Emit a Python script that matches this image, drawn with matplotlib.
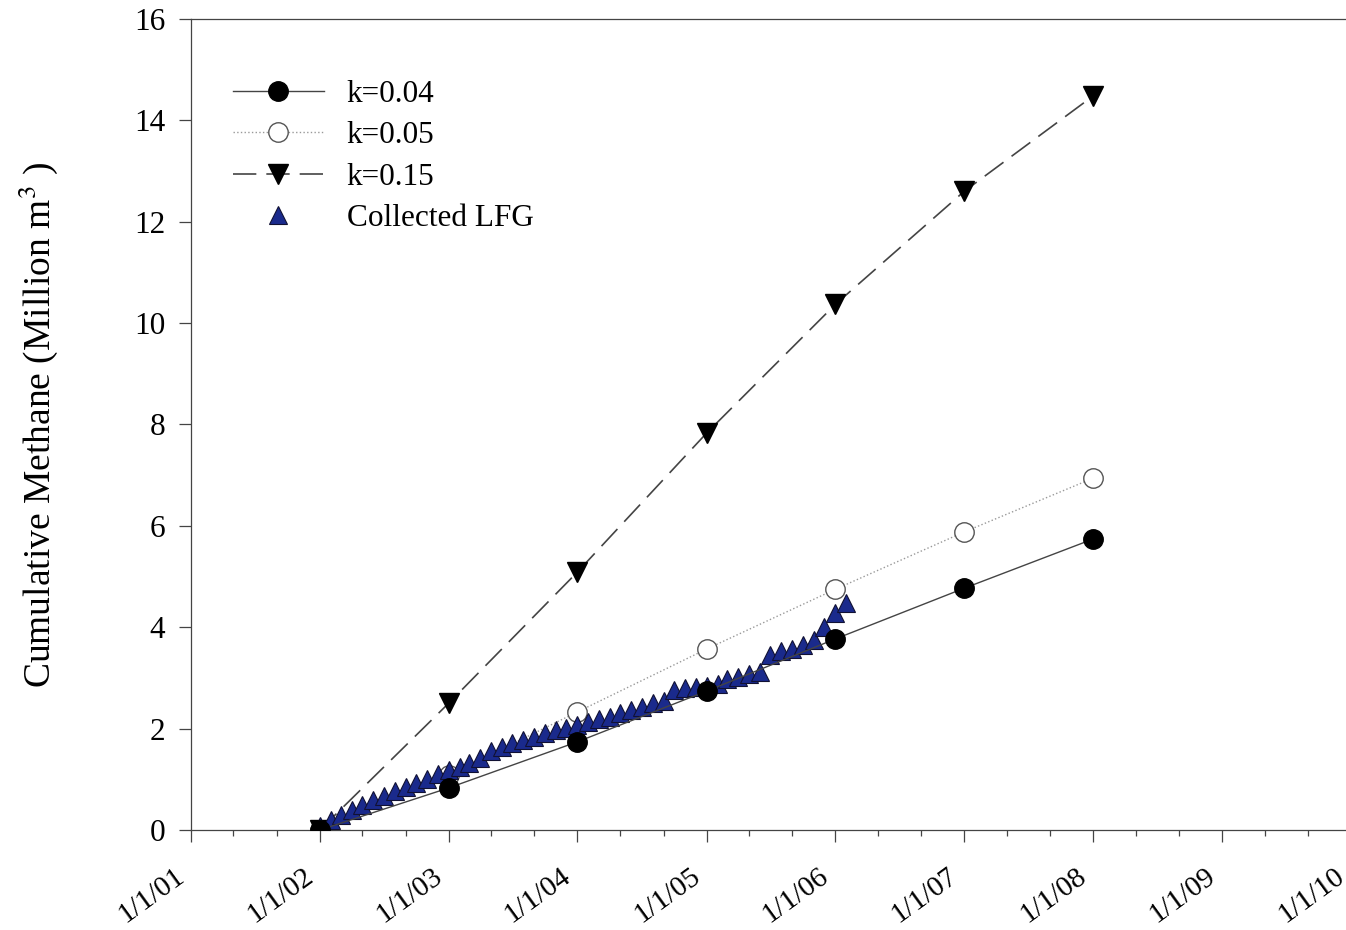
import datetime as dt
import matplotlib
matplotlib.use("Agg")
import matplotlib.pyplot as plt
import matplotlib.dates as mdates
import matplotlib.transforms as mtransforms

plt.rcParams['font.family'] = ['Liberation Serif', 'DejaVu Serif']
plt.rcParams['mathtext.fontset'] = 'stix'

# model years (1 Jan of each year)
model_years = [2002, 2003, 2004, 2005, 2006, 2007, 2008]
k004 = [0.0, 0.83, 1.74, 2.74, 3.77, 4.77, 5.74]
k005 = [0.0, 1.08, 2.33, 3.57, 4.75, 5.88, 6.94]
k015 = [0.0, 2.50, 5.09, 7.83, 10.37, 12.60, 14.48]

# collected LFG, monthly from Jan 2002 to Feb 2006
lfg = [0.08, 0.20, 0.30, 0.40, 0.50, 0.60, 0.68, 0.76, 0.85, 0.93, 1.01, 1.10,
       1.18, 1.24, 1.32, 1.42, 1.55, 1.64, 1.72, 1.78, 1.84, 1.91, 1.97, 2.01,
       2.07, 2.13, 2.19, 2.23, 2.31, 2.37, 2.43, 2.51, 2.55, 2.76, 2.80, 2.83,
       2.84, 2.88, 2.97, 3.02, 3.08, 3.12, 3.45, 3.53, 3.58, 3.65, 3.75, 4.00,
       4.28, 4.48]

xm = [dt.date(y, 1, 1) for y in model_years]
xl = [dt.date(2002 + i // 12, i % 12 + 1, 1) for i in range(len(lfg))]

fig = plt.figure(figsize=(13.46, 9.30), dpi=100)
ax = fig.add_axes([0.1419, 0.1075, 0.8618, 0.8721])

ax.plot(xm, k004, '-', color='#444444', lw=1.0, marker='o', ms=14,
        mfc='black', mec='black', zorder=4, label='k=0.04')
ax.plot(xm, k005, ':', color='#999999', lw=1.0, marker='o', ms=14,
        mfc='white', mec='#555555', mew=1.0, zorder=2, label='k=0.05')
ax.plot(xm, k015, color='#444444', lw=1.2, dashes=(14, 6), marker='v', ms=15,
        mfc='black', mec='black', zorder=2, label='k=0.15')
ax.plot(xl, lfg, ls='none', marker='^', ms=13, mfc='#1a2a8c', mec='#111133',
        mew=0.8, zorder=3, label='Collected LFG')

ax.set_xlim(dt.date(2001, 1, 1), dt.date(2010, 1, 1))
ax.set_ylim(0, 16)
ax.set_yticks(range(0, 17, 2))
ax.xaxis.set_major_locator(mdates.YearLocator())
ax.xaxis.set_minor_locator(mdates.MonthLocator(bymonth=[5, 9]))
ax.xaxis.set_major_formatter(mdates.DateFormatter('1/1/%y'))

ax.tick_params(axis='both', which='major', direction='out',
               length=8.6, width=0.9, color='#444444')
ax.tick_params(axis='x', which='minor', direction='out', length=4.5,
               width=0.9, color='#444444')
ax.tick_params(axis='x', labelsize=21, pad=15)
ax.tick_params(axis='y', labelsize=22.5, pad=10)

shift = mtransforms.ScaledTranslation(-0.17, 0, fig.dpi_scale_trans)
for lab in ax.get_xticklabels():
    lab.set_rotation(36)
    lab.set_ha('right')
    lab.set_rotation_mode('anchor')
    lab.set_transform(lab.get_transform() + shift)

for s in ax.spines.values():
    s.set_color('#444444')
    s.set_linewidth(0.9)

ax.set_ylabel('Cumulative Methane (Million m$^{3}$ )', fontsize=27)
ax.yaxis.set_label_coords(-0.113, 0.5)

leg = ax.legend(loc='upper left', bbox_to_anchor=(0.012, 0.96), frameon=False,
                fontsize=22.5, handlelength=2.9, handletextpad=0.74,
                labelspacing=0.4)

fig.savefig('out.png', dpi=100)
